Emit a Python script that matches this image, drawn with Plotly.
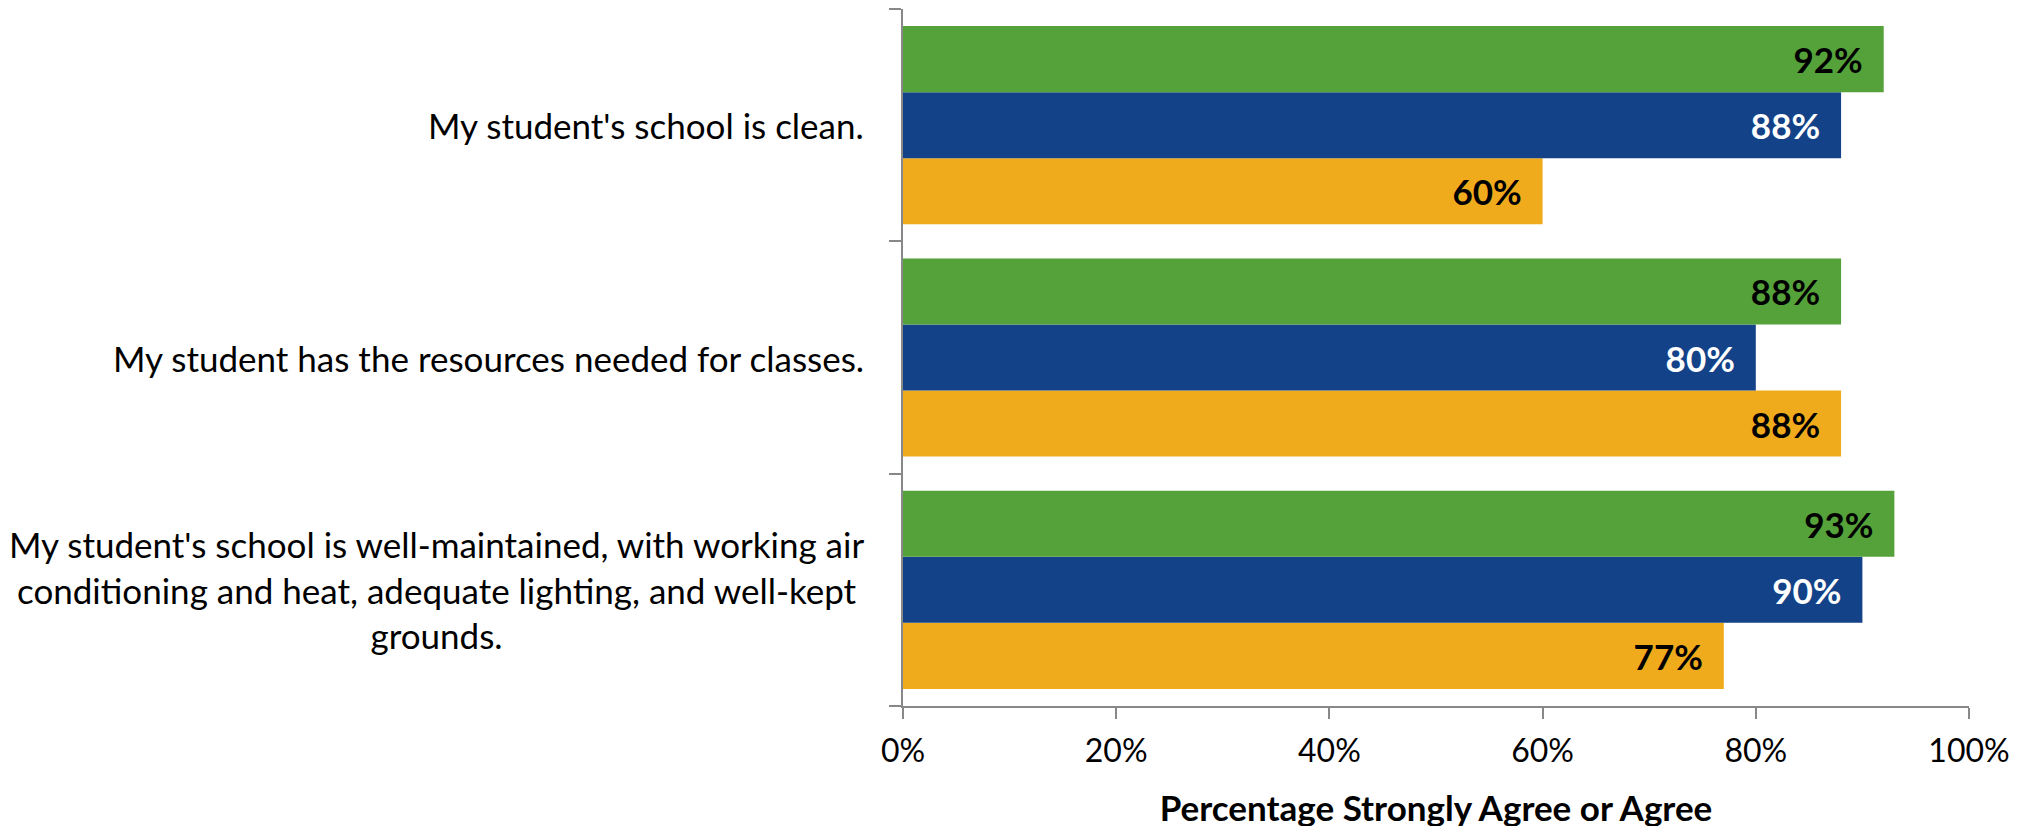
import plotly.graph_objects as go

# Aussagen (von oben nach unten)
categories = [
    "My student's school is clean.",
    "My student has the resources needed for classes.",
    "My student's school is well-maintained, with working air<br>conditioning and heat, adequate lighting, and well-kept<br>grounds.",
]

# Werte je Reihe (Prozent Strongly Agree / Agree)
green_vals = [92, 88, 93]
blue_vals = [88, 80, 90]
yellow_vals = [60, 88, 77]

x_ticks = [0, 20, 40, 60, 80, 100]
x_ticklabels = ["0%", "20%", "40%", "60%", "80%", "100%"]

FONT = "Lato, 'Open Sans', sans-serif"

fig = go.Figure()

# plotly zeichnet die erste Reihe unten in der Gruppe -> gelb zuerst
series = [
    ("Series 3", yellow_vals, "#F0AB1D", "black"),
    ("Series 2", blue_vals, "#134288", "white"),
    ("Series 1", green_vals, "#55A23A", "black"),
]
for name, vals, color, txtcolor in series:
    fig.add_trace(go.Bar(
        name=name,
        y=categories,
        x=vals,
        orientation="h",
        marker=dict(color=color, line=dict(width=0)),
        text=[f"<b>{v}%</b>\u00a0\u00a0" for v in vals],
        textposition="inside",
        insidetextanchor="end",
        textangle=0,
        constraintext="none",
        textfont=dict(family=FONT, size=35, color=txtcolor),
        hoverinfo="skip",
    ))

# Kategorie-Beschriftungen als Annotationen, damit mehrzeilige Texte zentriert sind
for cat in categories:
    fig.add_annotation(
        x=-0.035, xref="paper", y=cat, yref="y",
        text=cat, showarrow=False,
        xanchor="right", yanchor="middle", align="center",
        font=dict(family=FONT, size=35, color="black"),
    )

# Seite hat 8px Body-Rand -> Ränder entsprechend verschoben
fig.update_layout(
    width=2028, height=826,
    margin=dict(l=895, r=67, t=1, b=128),
    paper_bgcolor="white", plot_bgcolor="white",
    barmode="group",
    bargap=0.147, bargroupgap=0,
    showlegend=False,
    font=dict(family=FONT, size=32, color="black"),
)

fig.update_xaxes(
    range=[0, 100],
    tickvals=x_ticks, ticktext=x_ticklabels,
    ticks="outside", ticklen=11, tickcolor="#888888", tickwidth=2,
    ticklabelstandoff=5,
    showline=True, linecolor="#888888", linewidth=2,
    showgrid=False, zeroline=False,
    tickfont=dict(family=FONT, size=32, color="black"),
    title=dict(text="<b>Percentage Strongly Agree or Agree</b>",
               font=dict(family=FONT, size=35, color="black"), standoff=28),
)

fig.update_yaxes(
    categoryorder="array", categoryarray=categories[::-1],
    showticklabels=False,
    ticks="outside", tickson="boundaries", ticklen=12, tickcolor="#888888", tickwidth=2,
    showline=True, linecolor="#888888", linewidth=2,
    showgrid=False, zeroline=False,
)

fig.write_html("out.html")
